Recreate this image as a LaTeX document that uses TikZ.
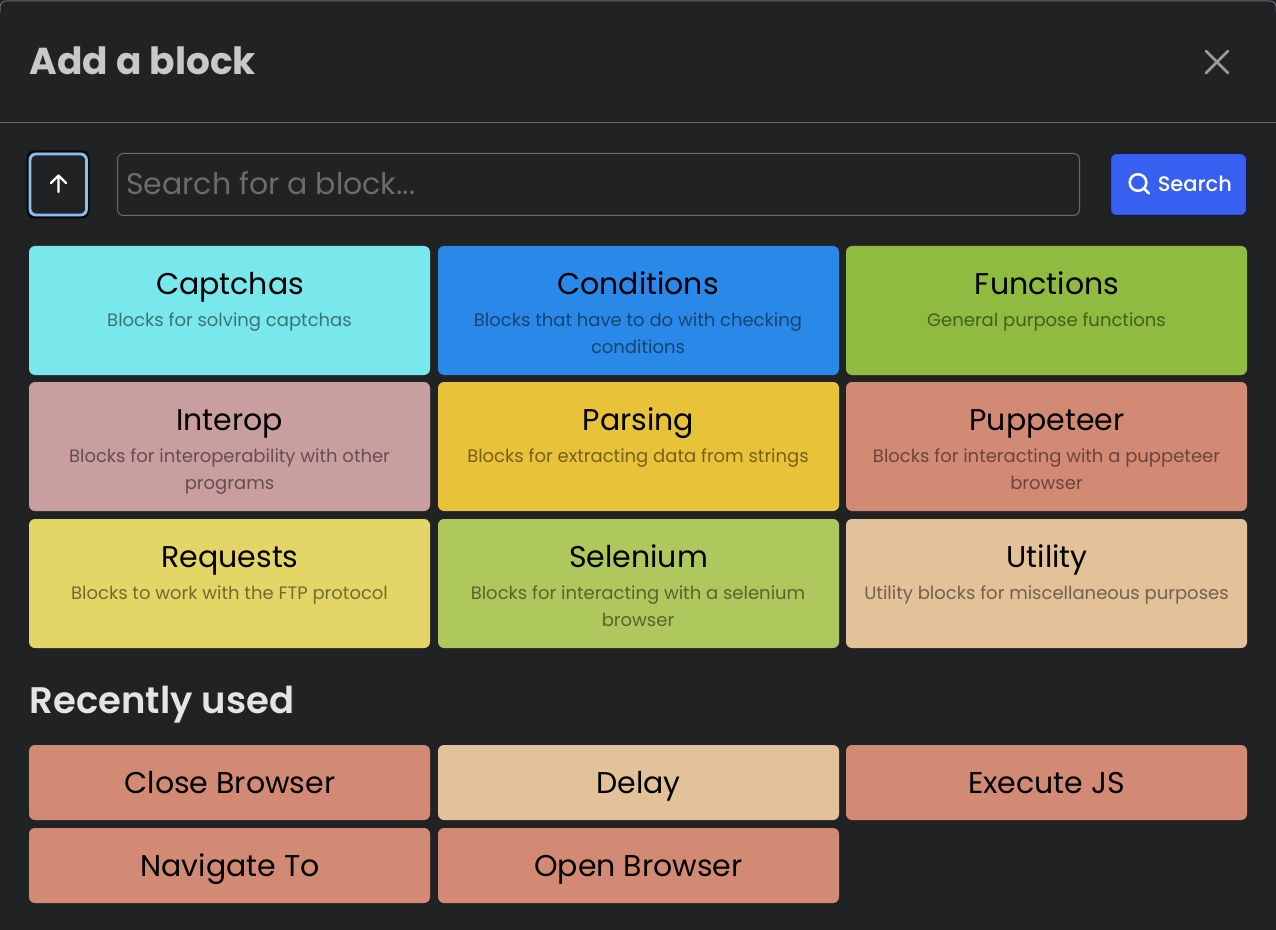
\documentclass[tikz,border=0pt]{standalone}
\usepackage{fontspec}
\setmainfont{Poppins}
\newfontfamily\semib{Poppins SemiBold}
\newfontfamily\medf{Poppins Medium}
\definecolor{bgc}{HTML}{212224}
\definecolor{capc}{HTML}{78E8EC}
\definecolor{conc}{HTML}{2A88E8}
\definecolor{func}{HTML}{8FBB40}
\definecolor{intc}{HTML}{C99E9E}
\definecolor{parc}{HTML}{E8C238}
\definecolor{pupc}{HTML}{D38A74}
\definecolor{reqc}{HTML}{E4D666}
\definecolor{selc}{HTML}{AFC85E}
\definecolor{utic}{HTML}{E3C29A}
\definecolor{linec}{HTML}{6A6B6E}
\definecolor{searchc}{HTML}{3860F0}
\definecolor{focusc}{HTML}{89BEF5}
\newcommand{\pxfont}[1]{\fontsize{\dimexpr #1pt*3/4\relax}{\dimexpr #1pt*9/10\relax}\selectfont}
\tikzset{
  x=0.75pt,y=-0.75pt,
  card/.style={fill=#1,rounded corners=4.5pt},
  cardtitle/.style={anchor=base,text=black,font=\pxfont{30},inner sep=0pt},
  cardsub/.style={anchor=base,text=black,text opacity=0.5,font=\pxfont{18},inner sep=0pt},
  recent/.style={anchor=base,text=black,font=\pxfont{30},inner sep=0pt},
}
\begin{document}
\begin{tikzpicture}
\useasboundingbox (0,0) rectangle (1276,930);
\fill[bgc] (0,0) rectangle (1276,930);
\draw[linec,line width=0.75pt,rounded corners=4.5pt] (0,12) -- (0,1) -- (1276,1) -- (1276,12);
\draw[linec,line width=0.75pt] (0,122.5) -- (1276,122.5);
\node[anchor=base west,inner sep=0pt,text=white!75!bgc,font=\pxfont{37.5}\bfseries] (title) at (29.5,75) {Add a block};
% close
\coordinate (xa) at (1206,51);
\coordinate (xb) at (1228,73);
\coordinate (xc) at (1228,51);
\coordinate (xd) at (1206,73);
\draw[white!55!bgc,line width=1.9pt,line cap=round] (xa) -- (xb) (xc) -- (xd);
% back button
\draw[black!75!bgc,line width=1.5pt,rounded corners=5pt] (27.5,151.5) rectangle (88.5,217.5);
\draw[fill=bgc,draw=focusc,line width=2.1pt,rounded corners=4.5pt] (30,154) rectangle (86.5,215);
\coordinate (ua) at (58.5,192);
\coordinate (ub) at (58.5,175.5);
\coordinate (ul) at (51,183);
\coordinate (ur) at (66,183);
\draw[white,line width=1.8pt,line cap=round,line join=round] (ua) -- (ub) (ul) -- (ub) -- (ur);
% search input
\draw[linec,line width=0.75pt,rounded corners=4.5pt] (117.5,153.5) rectangle (1079.5,215.5);
\node[anchor=base west,inner sep=0pt,text=white!33!bgc,font=\pxfont{30}] (ph) at (126,195) {Search for a block...};
% search button
\draw[fill=searchc,draw=black!70!searchc,line width=0.75pt,rounded corners=4.5pt] (1110.5,153.5) rectangle (1246.5,215.5);
\draw[white,line width=1.9pt] (1138,182.5) circle[radius=8.3];
\coordinate (ha) at (1144,188.5);
\coordinate (hb) at (1149,193.5);
\draw[white,line width=1.9pt,line cap=round] (ha) -- (hb);
\node[anchor=base west,inner sep=0pt,text=white,font=\pxfont{21}\medf] (st) at (1157.5,191.5) {Search};
% cards
\fill[card=capc] (29,246) rectangle (430,375);
\fill[card=conc] (438,246) rectangle (839,375);
\fill[card=func] (846,246) rectangle (1247,375);
\fill[card=intc] (29,382) rectangle (430,511);
\fill[card=parc] (438,382) rectangle (839,511);
\fill[card=pupc] (846,382) rectangle (1247,511);
\fill[card=reqc] (29,519) rectangle (430,648);
\fill[card=selc] (438,519) rectangle (839,648);
\fill[card=utic] (846,519) rectangle (1247,648);
\node[cardtitle] (t1) at (230,295) {Captchas};
\node[cardsub] (s1) at (229.5,326) {Blocks for solving captchas};
\node[cardtitle] (t2) at (638,295) {Conditions};
\node[cardsub] (s2) at (638,326) {Blocks that have to do with checking};
\node[cardsub] (s2b) at (638,353) {conditions};
\node[cardtitle] (t3) at (1047,295) {Functions};
\node[cardsub] (s3) at (1046.5,326) {General purpose functions};
\node[cardtitle] (t4) at (229.5,430) {Interop};
\node[cardsub] (s4) at (229.5,462) {Blocks for interoperability with other};
\node[cardsub] (s4b) at (229.5,489) {programs};
\node[cardtitle] (t5) at (638.5,430) {Parsing};
\node[cardsub] (s5) at (638,462) {Blocks for extracting data from strings};
\node[cardtitle] (t6) at (1047,430) {Puppeteer};
\node[cardsub] (s6) at (1046.5,462) {Blocks for interacting with a puppeteer};
\node[cardsub] (s6b) at (1046.5,489) {browser};
\node[cardtitle] (t7) at (230,567) {Requests};
\node[cardsub] (s7) at (229.5,599) {Blocks to work with the FTP protocol};
\node[cardtitle] (t8) at (638.5,567) {Selenium};
\node[cardsub] (s8) at (638,599) {Blocks for interacting with a selenium};
\node[cardsub] (s8b) at (638,626) {browser};
\node[cardtitle] (t9) at (1047,567) {Utility};
\node[cardsub] (s9) at (1046.5,599) {Utility blocks for miscellaneous purposes};
% recently used
\node[anchor=base west,inner sep=0pt,text=white!88!bgc,font=\pxfont{37}\semib] (ru) at (29.5,713) {Recently used};
\fill[card=pupc] (29,745) rectangle (430,820);
\fill[card=utic] (438,745) rectangle (839,820);
\fill[card=pupc] (846,745) rectangle (1247,820);
\fill[card=pupc] (29,828) rectangle (430,903);
\fill[card=pupc] (438,828) rectangle (839,903);
\node[recent] (r1) at (230,793) {Close Browser};
\node[recent] (r2) at (638.5,793) {Delay};
\node[recent] (r3) at (1046.5,793) {Execute JS};
\node[recent] (r4) at (230,876) {Navigate To};
\node[recent] (r5) at (638.5,876) {Open Browser};
\end{tikzpicture}
\end{document}
